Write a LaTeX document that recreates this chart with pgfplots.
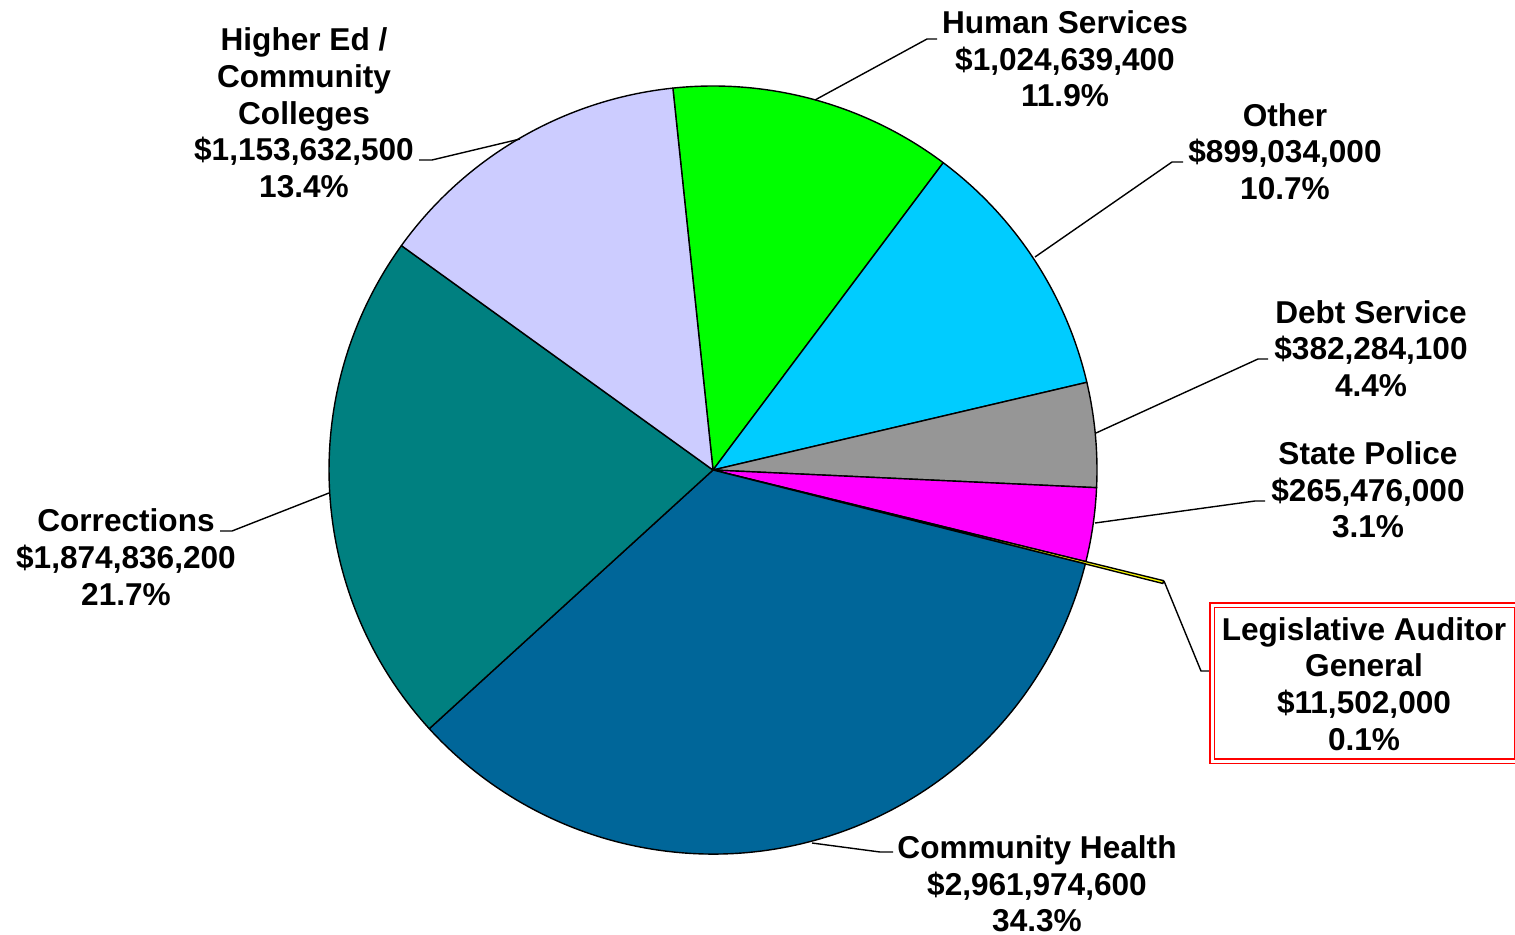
\documentclass[border=0pt]{standalone}
\usepackage{pgfplots}
\pgfplotsset{compat=1.18}
\usepackage{fontspec}
\setmainfont{Liberation Sans}
\definecolor{hsgreen}{HTML}{00FF00}
\definecolor{othcyan}{HTML}{00CCFF}
\definecolor{debtgray}{HTML}{969696}
\definecolor{spmag}{HTML}{FF00FF}
\definecolor{lagyellow}{HTML}{FFFF00}
\definecolor{chblue}{HTML}{006699}
\definecolor{corrteal}{HTML}{008080}
\definecolor{helav}{HTML}{CCCCFF}
\newcommand\lbl{\fontsize{15.8}{18.35}\selectfont\bfseries}
\begin{document}
\begin{tikzpicture}
\begin{axis}[x=0.5pt, y=0.5pt, xmin=0, xmax=1515, ymin=0, ymax=934,
  hide axis, clip=false, scale only axis]
% slices, clockwise from 96 deg: share (%) / colour / radius (pt)
\def\angstart{96}
\foreach \p/\c/\r in {11.9/hsgreen/192, 11.1/othcyan/192, 4.4/debtgray/192,
  3.1/spmag/192, 0.1/lagyellow/232, 34.3/chblue/192, 21.7/corrteal/192, 13.4/helav/192}{
  \pgfmathsetmacro\angend{\angstart-\p*3.6}
  \edef\slice{\noexpand\filldraw[fill=\c, draw=black, line width=0.7pt, line join=round]
    (axis cs:713,464) -- ++(\angstart:\r pt)
    arc[start angle=\angstart, end angle=\angend, radius=\r pt] -- cycle;}
  \slice
  \global\let\angstart\angend
}
% leader lines
\draw[line width=0.7pt] (axis cs:520,795) -- (axis cs:432,774) -- (axis cs:419,774);
\draw[line width=0.7pt] (axis cs:815,834) -- (axis cs:927,895) -- (axis cs:937,895);
\draw[line width=0.7pt] (axis cs:1035,677) -- (axis cs:1172,772) -- (axis cs:1183,772);
\draw[line width=0.7pt] (axis cs:1096,501) -- (axis cs:1258,575) -- (axis cs:1268,575);
\draw[line width=0.7pt] (axis cs:1095,411) -- (axis cs:1255,433) -- (axis cs:1265,433);
\draw[line width=0.7pt] (axis cs:1164,353) -- (axis cs:1201,263) -- (axis cs:1212,263);
\draw[line width=0.7pt] (axis cs:329,441) -- (axis cs:232,403) -- (axis cs:220,403);
\draw[line width=0.7pt] (axis cs:812,91) -- (axis cs:880,82) -- (axis cs:893,82);
% LAG box
\draw[red, line width=0.75pt, double=white, double distance=1.5pt]
  (axis cs:1212,173) rectangle (axis cs:1517,329);
% labels
\node[align=center, font=\lbl] at (axis cs:304,821) {Higher Ed /\\Community\\Colleges\\\$1,153,632,500\\13.4\%};
\node[align=center, font=\lbl] at (axis cs:1065,875) {Human Services\\\$1,024,639,400\\11.9\%};
\node[align=center, font=\lbl] at (axis cs:1285,782.5) {Other\\\$899,034,000\\10.7\%};
\node[align=center, font=\lbl] at (axis cs:1371,585.5) {Debt Service\\\$382,284,100\\4.4\%};
\node[align=center, font=\lbl] at (axis cs:1368,444) {State Police\\\$265,476,000\\3.1\%};
\node[align=center, font=\lbl] at (axis cs:1364,250) {Legislative Auditor\\General\\\$11,502,000\\0.1\%};
\node[align=center, font=\lbl] at (axis cs:1037,50) {Community Health\\\$2,961,974,600\\34.3\%};
\node[align=center, font=\lbl] at (axis cs:126,377) {Corrections\\\$1,874,836,200\\21.7\%};
\end{axis}
\pgfresetboundingbox
\path (0,0) rectangle (757.5pt,467pt);
\end{tikzpicture}
\end{document}
